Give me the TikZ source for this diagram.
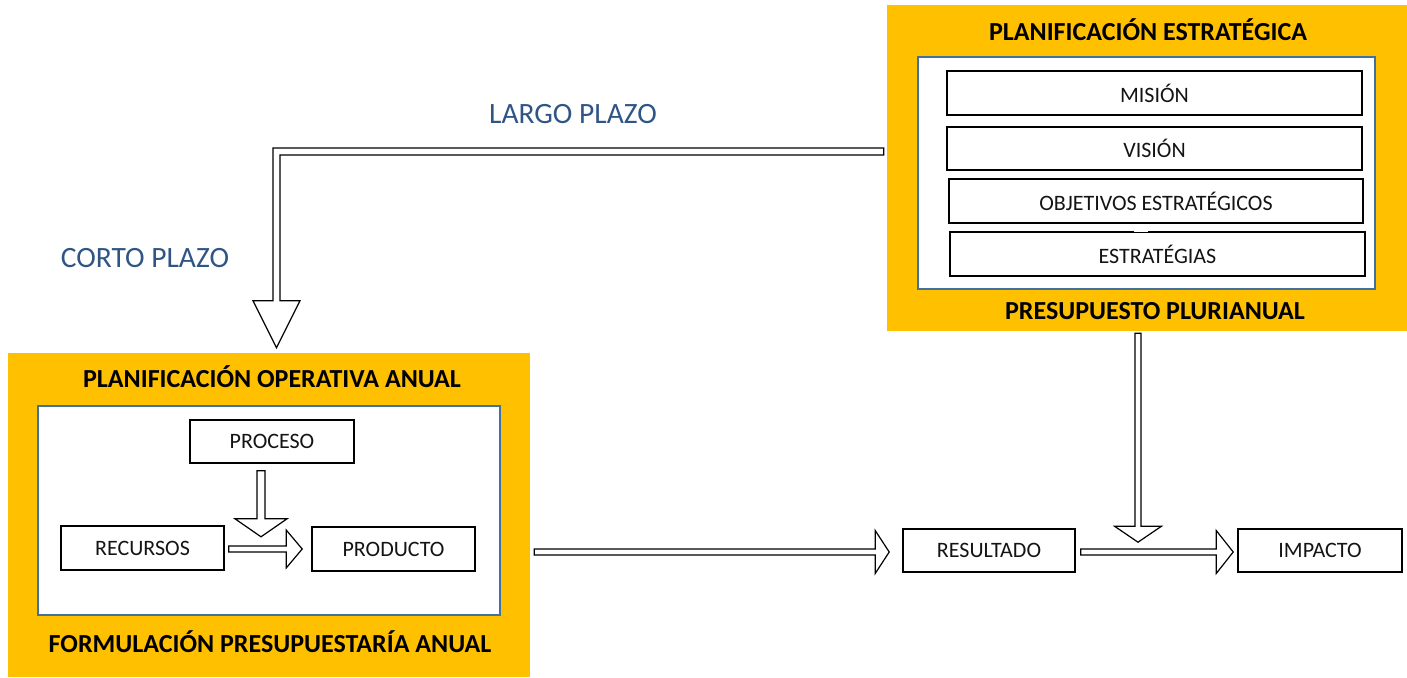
\documentclass[tikz,border=0pt]{standalone}
\usepackage{fontspec}
\setmainfont{Carlito}
\usetikzlibrary{calc}
\definecolor{orng}{RGB}{255,192,0}
\definecolor{frameblue}{RGB}{65,113,156}
\definecolor{plazo}{RGB}{47,85,133}
\definecolor{txt}{RGB}{20,20,20}
\tikzset{
  panel/.style={rectangle, fill=orng, draw=none, inner sep=0pt},
  frame/.style={rectangle, fill=white, draw=frameblue, line width=1.3pt, inner sep=0pt},
  box/.style={rectangle, draw=black, line width=1.6pt, fill=white, inner sep=0pt, text=txt, font=\fontsize{22}{26}\selectfont},
  ttl/.style={font=\fontsize{26}{30}\selectfont\bfseries, text=black, inner sep=0pt},
  plz/.style={font=\fontsize{29.5}{34}\selectfont, text=plazo, inner sep=0pt},
  blockarrow/.style={draw=black, line width=1.2pt, fill=white, line join=miter}
}
% horizontal block arrow: start (shaft centre), tip, shaft half, head half, head length
\newcommand\hblockR[5]{%
  \draw[blockarrow] let \p1=(#1), \p2=(#2) in
   (\x1,\y1+#3) -- (\x2-#5,\y1+#3) -- (\x2-#5,\y1+#4) -- (\x2,\y1)
   -- (\x2-#5,\y1-#4) -- (\x2-#5,\y1-#3) -- (\x1,\y1-#3) -- cycle;}
% vertical block arrow pointing down
\newcommand\vblockD[5]{%
  \draw[blockarrow] let \p1=(#1), \p2=(#2) in
   (\x1-#3,\y1) -- (\x1-#3,\y2+#5) -- (\x1-#4,\y2+#5) -- (\x1,\y2)
   -- (\x1+#4,\y2+#5) -- (\x1+#3,\y2+#5) -- (\x1+#3,\y1) -- cycle;}
\begin{document}
\begin{tikzpicture}[x=1pt,y=-1pt]
\useasboundingbox (0,0) rectangle (1407,677);

% ---- top right panel ----
\node[panel, minimum width=520pt, minimum height=326pt] (orangeR) at (1147,168) {};
\node[frame, minimum width=457pt, minimum height=232pt] (innerR) at (1146.5,173) {};
\node[ttl] (tPE) at (1148,30) {PLANIFICACIÓN ESTRATÉGICA};
\node[ttl] (tPP) at (1155,311) {PRESUPUESTO PLURIANUAL};
\node[box, minimum width=415pt, minimum height=44pt] (mision) at (1154.5,93) {MISIÓN};
\node[box, minimum width=415pt, minimum height=43pt] (vision) at (1154.5,148.5) {VISIÓN};
\node[box, minimum width=414pt, minimum height=44pt] (objetivos) at (1156,201) {OBJETIVOS ESTRATÉGICOS};
\node[box, minimum width=415pt, minimum height=44pt] (estrategias) at (1157.5,254) {ESTRATÉGIAS};
\draw[white, line width=2.5pt] ($(estrategias.north)+(-24,0)$) -- ($(estrategias.north)+(-10,0)$);

% ---- left panel ----
\node[panel, minimum width=522pt, minimum height=324pt] (orangeL) at (269,515) {};
\node[frame, minimum width=462pt, minimum height=209pt] (innerL) at (269,510.5) {};
\node[ttl] (tPOA) at (272,377) {PLANIFICACIÓN OPERATIVA ANUAL};
\node[ttl] (tFPA) at (270,642) {FORMULACIÓN PRESUPUESTARÍA ANUAL};
\node[box, minimum width=164pt, minimum height=43pt] (proc) at (272,441.5) {PROCESO};
\node[box, minimum width=163pt, minimum height=44pt] (rec) at (142.5,548) {RECURSOS};
\node[box, minimum width=163pt, minimum height=44pt] (prod) at (393.5,549) {PRODUCTO};

% ---- right row ----
\node[box, minimum width=172pt, minimum height=43pt] (resultado) at (989,550.5) {RESULTADO};
\node[box, minimum width=164pt, minimum height=43pt] (impacto) at (1320,550.5) {IMPACTO};

% ---- labels ----
\node[plz] (largo) at (573,114) {LARGO PLAZO};
\node[plz] (corto) at (145,258) {CORTO PLAZO};

% ---- connectors ----
\coordinate (lS) at ($(orangeR.west)+(-3,-16.5)$);
\coordinate (lT) at ($(orangeL.north)+(7.5,-5)$);
\draw[blockarrow] let \p1=(lS), \p2=(lT) in
  (\x1,\y1+3.5pt) -- (\x2-3.5pt,\y1+3.5pt) -- (\x2-3.5pt,\y2+47pt) -- (\x2-23.5pt,\y2+47pt)
  -- (\x2,\y2) -- (\x2+23.5pt,\y2+47pt) -- (\x2+3.5pt,\y2+47pt) -- (\x2+3.5pt,\y1-3.5pt)
  -- (\x1,\y1-3.5pt) -- cycle;

\coordinate (pS) at ($(proc.south)+(-11,7)$);
\coordinate (pT) at ($(proc.south)+(-11,73)$);
\vblockD{pS}{pT}{4pt}{26pt}{18pt}

\coordinate (rS) at ($(rec.east)+(4,1)$);
\coordinate (rT) at ($(prod.west)+(-9,0)$);
\hblockR{rS}{rT}{3pt}{19pt}{16pt}

\coordinate (oS) at ($(orangeL.east)+(4,37)$);
\coordinate (oT) at ($(resultado.west)+(-13,1.5)$);
\hblockR{oS}{oT}{3pt}{21.5pt}{14pt}

\coordinate (eS) at ($(resultado.east)+(5,1.5)$);
\coordinate (eT) at ($(impacto.west)+(-4,1.5)$);
\hblockR{eS}{eT}{3pt}{21.5pt}{17pt}

\coordinate (vS) at ($(orangeR.south)+(-9,2)$);
\coordinate (vT) at ($(orangeR.south)+(-9,211)$);
\vblockD{vS}{vT}{3pt}{23.5pt}{16pt}
\end{tikzpicture}
\end{document}
